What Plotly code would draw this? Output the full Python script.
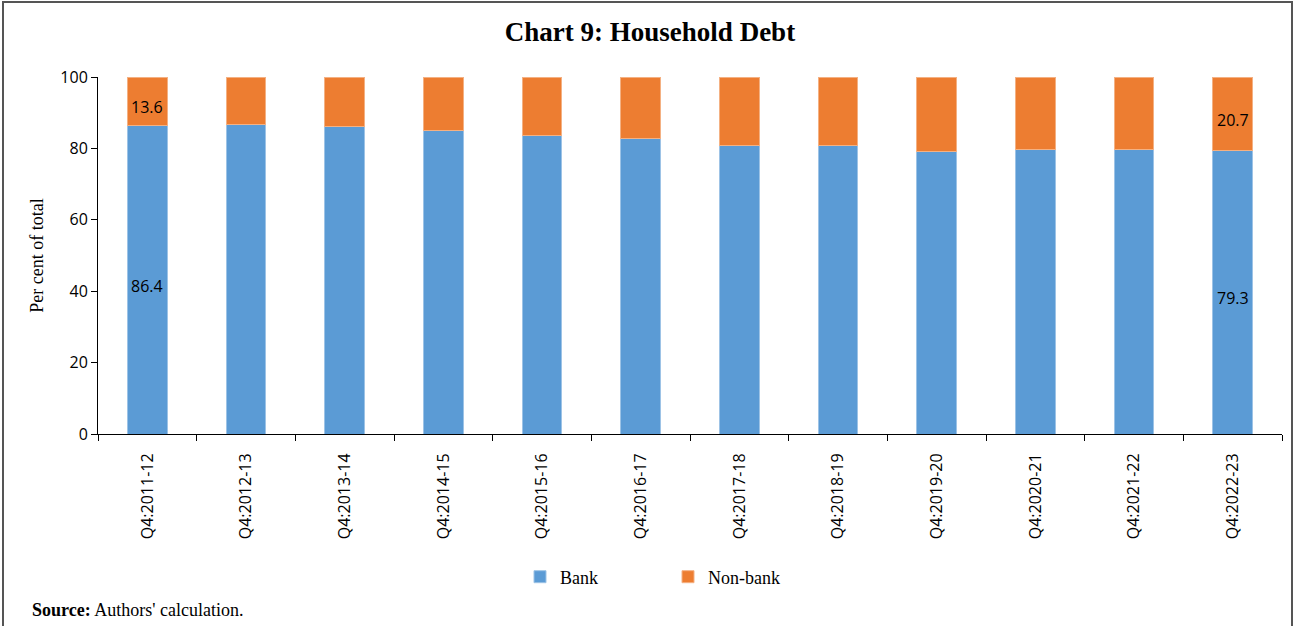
import plotly.graph_objects as go

categories = ["Q4:2011-12", "Q4:2012-13", "Q4:2013-14", "Q4:2014-15", "Q4:2015-16",
              "Q4:2016-17", "Q4:2017-18", "Q4:2018-19", "Q4:2019-20", "Q4:2020-21",
              "Q4:2021-22", "Q4:2022-23"]
bank = [86.4, 86.6, 86.1, 85.0, 83.5, 82.8, 80.9, 80.7, 79.0, 79.8, 79.7, 79.3]
nonbank = [13.6, 13.4, 13.9, 15.0, 16.5, 17.2, 19.1, 19.3, 21.0, 20.2, 20.3, 20.7]
labelled = [0, 11]  # indices of bars carrying data labels

W, H = 1296, 626
L, R, T, B = 98, 1282, 77, 434
pw, ph = R - L, B - T

sans = "Open Sans"
serif = "Liberation Serif"

fig = go.Figure()
fig.add_trace(go.Bar(x=categories, y=bank, name="Bank", marker_color="#5B9BD5",
                     marker_line=dict(color="#9DC3E6", width=1)))
fig.add_trace(go.Bar(x=categories, y=nonbank, name="Non-bank", marker_color="#ED7D31",
                     marker_line=dict(color="#F4B183", width=1)))

for i in labelled:
    fig.add_annotation(x=categories[i], y=bank[i] / 2, text=f"{bank[i]:.1f}",
                       showarrow=False, yshift=-6,
                       font=dict(family=sans, size=16, color="#000000"))
    fig.add_annotation(x=categories[i], y=bank[i] + nonbank[i] / 2, text=f"{nonbank[i]:.1f}",
                       showarrow=False, yshift=-6,
                       font=dict(family=sans, size=16, color="#000000"))

fig.update_layout(
    width=W, height=H,
    margin=dict(l=L, r=W - R, t=T, b=H - B),
    barmode="stack", bargap=0.6,
    plot_bgcolor="white", paper_bgcolor="white",
    showlegend=True,
    title=dict(text="<b>Chart 9: Household Debt</b>", x=650 / W, xanchor="center",
               y=1 - 32 / H, yanchor="middle",
               font=dict(family=serif, size=27, color="#000000")),
    legend=dict(orientation="h", x=(520 - L) / pw, xanchor="left",
                y=-(577 - B) / ph, yanchor="middle",
                font=dict(family=serif, size=18, color="#000000"),
                entrywidth=103, entrywidthmode="pixels", traceorder="normal",
                itemwidth=30),
    xaxis=dict(showline=True, linecolor="#000000", linewidth=1,
               ticks="outside", tickson="boundaries", ticklen=6, tickcolor="#000000",
               tickangle=-90, tickfont=dict(family=sans, size=16, color="#000000"),
               ticklabelstandoff=12, showgrid=False),
    yaxis=dict(range=[0, 100], dtick=20, showline=True, linecolor="#000000", linewidth=1,
               ticks="outside", ticklen=6, tickcolor="#000000",
               tickfont=dict(family=sans, size=16, color="#000000"),
               showgrid=False, zeroline=False,
               title=dict(text="Per cent of total", font=dict(family=serif, size=18, color="#000000"),
                          standoff=12)),
)

fig.add_annotation(text="<b>Source:</b> Authors' calculation.", xref="paper", yref="paper",
                   x=(30 - L) / pw, y=-(610 - B) / ph, xanchor="left", yanchor="middle",
                   showarrow=False, font=dict(family=serif, size=18, color="#000000"))

# outer frame
fig.add_shape(type="rect", xref="paper", yref="paper",
              x0=(3 - L) / pw, x1=(1292 - L) / pw,
              y0=(B - 640) / ph, y1=(B - 2) / ph,
              line=dict(color="#555555", width=2), fillcolor="rgba(0,0,0,0)", layer="below")

fig.write_html("out.html")
